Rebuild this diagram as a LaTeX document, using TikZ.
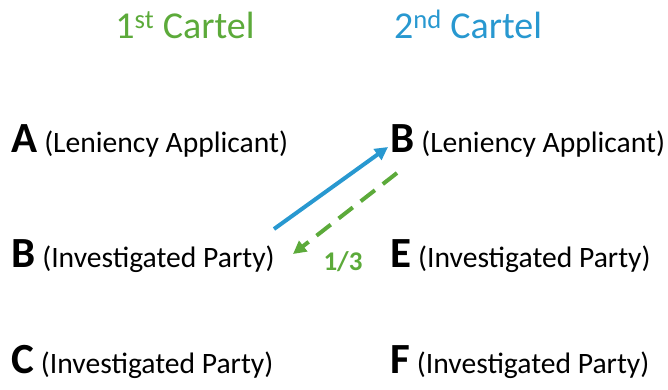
\documentclass[tikz,border=0pt]{standalone}
\usepackage{fontspec}
\setmainfont{Carlito}
\usetikzlibrary{arrows.meta}
\definecolor{cgreen}{RGB}{92,170,58}
\definecolor{cblue}{RGB}{40,152,208}
\def\firm#1#2{{\fontsize{43}{43}\selectfont\bfseries #1}\hspace{7pt}{\fontsize{29.6}{30}\selectfont(#2)}}
\def\head#1#2{{\fontsize{38}{38}\selectfont #1\textsuperscript{#2} Cartel}}

\begin{document}
\begin{tikzpicture}[x=1pt,y=-1pt,
  every node/.style={inner sep=0pt,anchor=base west},
  link/.style={line width=4pt,-{Triangle[length=13pt,width=13pt]}}]
\useasboundingbox (0,0) rectangle (668,389);
% column heads
\node[cgreen,anchor=base] (head1) at (185,38) {\head{1}{st}};
\node[cblue,anchor=base] (head2) at (468,38) {\head{2}{nd}};
% first cartel
\node (a1) at (11,152) {\firm{A}{Leniency Applicant}};
\node (b1) at (11,267) {\firm{B}{Investigated Party}};
\node (c1) at (11,373) {\firm{C}{Investigated Party}};
% second cartel
\node (b2) at (390,152) {\firm{B}{Leniency Applicant}};
\node (e2) at (390,267) {\firm{E}{Investigated Party}};
\node (f2) at (390,373) {\firm{F}{Investigated Party}};
% connectors
\coordinate (blueS) at (274,229);
\coordinate (blueE) at (388,147);
\coordinate (greenS) at (397,173);
\coordinate (greenE) at (293,254);
\draw[link,cblue] (blueS) -- (blueE);
\draw[link,cgreen,dash pattern=on 18pt off 10pt] (greenS) -- (greenE);
\node[cgreen,anchor=base] (share) at (343,270) {\fontsize{27}{27}\selectfont\bfseries 1/3};
\end{tikzpicture}
\end{document}
